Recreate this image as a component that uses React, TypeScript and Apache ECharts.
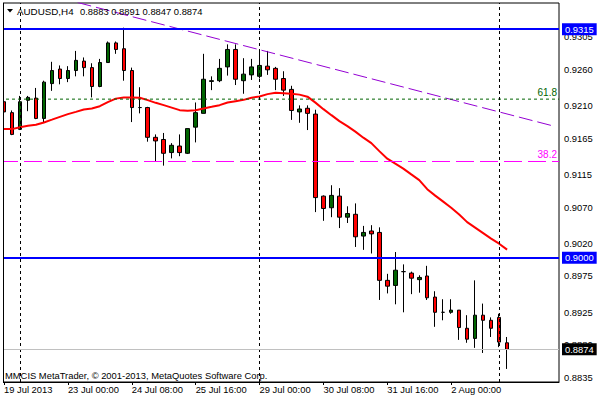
import React, { useEffect, useRef } from "react";
import * as echarts from "echarts";

// ---- data (AUDUSD, H4) ----
const hours = ["00:00", "04:00", "08:00", "12:00", "16:00", "20:00"];
const fullDays = ["22 Jul", "23 Jul", "24 Jul", "25 Jul", "26 Jul", "29 Jul", "30 Jul", "31 Jul", "1 Aug", "2 Aug"];
const categories: string[] = [
  "19 Jul 16:00", "19 Jul 20:00",
  ...fullDays.flatMap((d) => hours.map((h) => `${d} ${h}`)),
  "5 Aug 00:00", "5 Aug 04:00",
  // empty chart-shift slots
  "5 Aug 08:00", "5 Aug 12:00", "5 Aug 16:00", "5 Aug 20:00", "6 Aug 00:00", "6 Aug 04:00",
];

const xTickLabels = ["19 Jul 2013", "23 Jul 00:00", "24 Jul 08:00", "25 Jul 16:00", "29 Jul 00:00", "30 Jul 08:00", "31 Jul 16:00", "2 Aug 00:00"];
const yTickValues = [0.9305, 0.926, 0.921, 0.9165, 0.9115, 0.907, 0.902, 0.8975, 0.8925, 0.888, 0.8835];

const opens = [
  0.9215, 0.92, 0.9177, 0.9217, 0.922, 0.9192, 0.924, 0.926, 0.9247, 0.9258,
  0.9271, 0.9262, 0.9236, 0.9269, 0.9296, 0.9288, 0.9258, 0.9207, 0.9207, 0.9166,
  0.9163, 0.9145, 0.9154, 0.9144, 0.918, 0.9199, 0.9243, 0.9244, 0.9263, 0.9287,
  0.9244, 0.9252, 0.925, 0.9264, 0.9261, 0.9247, 0.9232, 0.9201, 0.9206, 0.9198,
  0.9085, 0.9069, 0.9085, 0.9056, 0.906, 0.903, 0.9037, 0.9035, 0.8969, 0.8962,
  0.8981, 0.8979, 0.897, 0.8975, 0.8946, 0.8925, 0.8925, 0.8928, 0.8903, 0.8889,
  0.8921, 0.8914, 0.8918, 0.8883,
];
const highs = [
  0.9218, 0.9203, 0.9223, 0.9223, 0.9234, 0.9244, 0.927, 0.9265, 0.9264, 0.9285,
  0.9276, 0.9268, 0.9274, 0.9298, 0.9298, 0.9317, 0.9262, 0.9235, 0.9208, 0.917,
  0.9172, 0.9158, 0.917, 0.9178, 0.9214, 0.9281, 0.925, 0.9274, 0.9294, 0.9294,
  0.9275, 0.9274, 0.9285, 0.9285, 0.9263, 0.9257, 0.9237, 0.921, 0.921, 0.9204,
  0.9086, 0.91, 0.9096, 0.9071, 0.9075, 0.9044, 0.9045, 0.9042, 0.8978, 0.9008,
  0.8991, 0.8981, 0.8976, 0.8989, 0.8954, 0.8943, 0.8943, 0.8928, 0.8921, 0.8969,
  0.8937, 0.8918, 0.8923, 0.8891,
];
const lows = [
  0.9189, 0.9169, 0.9176, 0.9202, 0.9191, 0.9187, 0.923, 0.9239, 0.9242, 0.925,
  0.925, 0.9221, 0.9235, 0.9269, 0.9281, 0.9244, 0.9187, 0.9199, 0.916, 0.9132,
  0.9127, 0.9137, 0.914, 0.9143, 0.9159, 0.9199, 0.9231, 0.9242, 0.9251, 0.9238,
  0.9226, 0.9245, 0.9247, 0.9252, 0.9231, 0.9223, 0.919, 0.9186, 0.9176, 0.9063,
  0.9051, 0.9056, 0.9041, 0.9048, 0.9015, 0.9011, 0.9006, 0.8942, 0.8951, 0.8936,
  0.8925, 0.895, 0.8952, 0.8942, 0.8905, 0.8914, 0.8923, 0.8887, 0.8883, 0.8876,
  0.8869, 0.8891, 0.8877, 0.8847,
];
const closes = [
  0.9201, 0.917, 0.9215, 0.9221, 0.9192, 0.9242, 0.9258, 0.9247, 0.9258, 0.9272,
  0.9262, 0.9236, 0.9269, 0.9296, 0.9287, 0.9258, 0.9207, 0.9207, 0.9166, 0.9161,
  0.9144, 0.9155, 0.9145, 0.9178, 0.92, 0.9246, 0.9244, 0.9261, 0.9287, 0.9246,
  0.9253, 0.9263, 0.9265, 0.9259, 0.9246, 0.9231, 0.9203, 0.9205, 0.9199, 0.9083,
  0.9068, 0.9086, 0.9056, 0.9061, 0.9029, 0.9035, 0.9033, 0.8969, 0.8961, 0.8983,
  0.8981, 0.8972, 0.8973, 0.8945, 0.8925, 0.8925, 0.8928, 0.8904, 0.8888, 0.8921,
  0.8914, 0.8903, 0.8884, 0.8874,
];
const maValues = [
  0.91773, 0.91773, 0.918, 0.91818, 0.91832, 0.91865, 0.91903, 0.91942, 0.91979, 0.92011,
  0.92044, 0.92058, 0.92089, 0.92144, 0.92193, 0.92209, 0.92209, 0.92204, 0.92172, 0.92135,
  0.92103, 0.92069, 0.92034, 0.92025, 0.92034, 0.92058, 0.9208, 0.92103, 0.9214, 0.92158,
  0.92176, 0.92206, 0.92223, 0.92255, 0.92273, 0.92268, 0.92259, 0.92248, 0.9222, 0.92138,
  0.92048, 0.91965, 0.91883, 0.91814, 0.91738, 0.91655, 0.9158, 0.9147, 0.91366, 0.91297,
  0.91229, 0.91149, 0.9107, 0.90946, 0.90857, 0.90774, 0.90691, 0.90598, 0.90492, 0.90416,
  0.9034, 0.90264, 0.90195, 0.90113,
];

const levelHigh = 0.9315;
const levelLow = 0.9;
const lastPrice = 0.8874;
const fib618 = 0.92186;
const fib382 = 0.91327;
const trendStart = 0.9378; // at first category
const trendEnd = 0.9181; // at last category
const separatorIdx = [2, 32, 62];

const headerSymbol = "AUDUSD,H4";
const headerValues = "0.8883 0.8891 0.8847 0.8874";
const copyright = "MMCIS MetaTrader, © 2001-2013, MetaQuotes Software Corp.";

const FONT = "'Liberation Sans', Arial, sans-serif";
const FS = 9.4;

export default function App() {
  const ref = useRef<HTMLDivElement>(null);

  useEffect(() => {
    if (!ref.current) return;
    const chart = echarts.init(ref.current, undefined, { renderer: "svg" });

    const candleData = opens.map((o, i) => [o, closes[i], lows[i], highs[i]]);
    const trendData = categories.map((_, i) =>
      i === 0 ? trendStart : i === categories.length - 1 ? trendEnd : null
    );

    const boxLabel = (text: string, bg: string) => ({
      show: true,
      position: "end",
      formatter: text,
      backgroundColor: bg,
      color: "#ffffff",
      padding: [2, 3, 1, 3],
      distance: 3,
      fontSize: FS,
      fontFamily: FONT,
    });

    const hLine = (name: string, value: number, color: string, width: number, label: any, z: number) => ({
      name,
      type: "line",
      data: [],
      z,
      color,
      markLine: {
        silent: true,
        precision: 5,
        symbol: ["none", "none"],
        lineStyle: { color, type: "solid", width },
        label,
        data: [{ yAxis: value }],
      },
    });

    // fibo level: full-width dashed line on a hidden 0..1 x axis, label via an invisible markLine
    const fibLine = (name: string, value: number, color: string, dash: number[], text: string) => ({
      name,
      type: "line",
      xAxisIndex: 1,
      yAxisIndex: 0,
      data: [[0, value], [1, value]],
      z: 4,
      symbol: "none",
      silent: true,
      lineStyle: { color, width: 1, type: dash },
      markLine: {
        silent: true,
        precision: 5,
        symbol: ["none", "none"],
        lineStyle: { color: "rgba(0,0,0,0)", width: 1 },
        label: {
          show: true,
          position: "insideEndTop",
          formatter: text,
          color,
          fontSize: FS + 0.6,
          fontFamily: FONT,
          distance: 2,
        },
        data: [{ yAxis: value }],
      },
    });

    chart.setOption({
      animation: false,
      backgroundColor: "#ffffff",
      grid: {
        left: -1,
        right: 41,
        top: 3,
        bottom: 18,
        show: true,
        borderColor: "#000000",
        borderWidth: 1,
        backgroundColor: "transparent",
      },
      xAxis: [
        {
          type: "category",
          data: categories,
          boundaryGap: true,
          axisLine: { show: true, lineStyle: { color: "#000000", width: 1 } },
          axisTick: {
            show: true,
            alignWithLabel: true,
            length: 3,
            interval: (i: number) => i % 8 === 0 && i < 64,
            lineStyle: { color: "#000000" },
          },
          axisLabel: {
            interval: (i: number) => i % 8 === 0 && i < 64,
            align: "left",
            margin: 3,
            color: "#000000",
            fontSize: FS,
            fontFamily: FONT,
            formatter: (_v: string, idx: number) => xTickLabels[idx / 8] ?? "",
          },
          splitLine: { show: false },
        },
        { type: "value", min: 0, max: 1, show: false },
      ],
      yAxis: {
        type: "value",
        position: "right",
        min: 0.8829,
        max: 0.9351,
        axisLine: { show: true, lineStyle: { color: "#000000", width: 1 } },
        axisTick: {
          show: true,
          length: 3,
          customValues: yTickValues,
          lineStyle: { color: "#000000" },
        },
        axisLabel: {
          customValues: yTickValues,
          margin: 5,
          color: "#000000",
          fontSize: FS,
          fontFamily: FONT,
          formatter: (v: number) => v.toFixed(4),
        },
        splitLine: { show: false },
      },
      graphic: [
        { type: "rect", shape: { x: 0, y: 0, width: 3, height: 383 }, style: { fill: "#ffffff" }, z: 100 },
        { type: "line", shape: { x1: 3.5, y1: 3, x2: 3.5, y2: 382 }, style: { stroke: "#000000", lineWidth: 1 }, z: 101 },
        { type: "polygon", shape: { points: [[7, 9], [13, 9], [10, 12.5]] }, style: { fill: "#000000" }, z: 101 },
        {
          type: "text", x: 17, y: 11, z: 101,
          style: { text: headerSymbol, fill: "#000000", fontSize: FS + 0.4, fontFamily: FONT, verticalAlign: "middle" },
        },
        {
          type: "text", x: 80, y: 11, z: 101,
          style: { text: headerValues, fill: "#000000", fontSize: FS, fontFamily: FONT, verticalAlign: "middle" },
        },
        {
          type: "text", x: 5, y: 375, z: 101,
          style: { text: copyright, fill: "#000000", fontSize: FS, fontFamily: FONT, verticalAlign: "middle" },
        },
      ],
      series: [
        {
          name: "separators",
          type: "line",
          data: [],
          z: 1,
          markLine: {
            silent: true,
            symbol: ["none", "none"],
            label: { show: false },
            lineStyle: { color: "#000000", type: [3, 3], width: 1 },
            data: separatorIdx.map((i) => ({ xAxis: categories[i] })),
          },
        },
        {
          name: "AUDUSD",
          type: "candlestick",
          data: candleData,
          barWidth: 4,
          z: 2,
          itemStyle: {
            color: "#006400",
            color0: "#ff0000",
            borderColor: "#000000",
            borderColor0: "#000000",
            borderColorDoji: "#000000",
            borderWidth: 1,
          },
        },
        fibLine("fib618", fib618, "#006400", [3, 3], "61.8"),
        fibLine("fib382", fib382, "#ff00ff", [18, 6], "38.2"),
        hLine("last", lastPrice, "#c0c0c0", 1, boxLabel("0.8874", "#000000"), 4),
        {
          name: "MA",
          type: "line",
          data: maValues,
          z: 3,
          symbol: "none",
          lineStyle: { color: "#ff0000", width: 2 },
        },
        {
          name: "Trendline",
          type: "line",
          data: trendData,
          connectNulls: true,
          z: 3,
          symbol: "none",
          lineStyle: { color: "#9400d3", width: 1, type: [14, 5] },
        },
        hLine("high", levelHigh, "#0000ff", 2, boxLabel("0.9315", "#0000ff"), 4),
        hLine("low", levelLow, "#0000ff", 2, boxLabel("0.9000", "#0000ff"), 4),
      ],
    });

    return () => chart.dispose();
  }, []);

  return (
    <div
      ref={ref}
      style={{ position: "fixed", left: 0, top: 0, width: 600, height: 400, background: "#ffffff" }}
    />
  );
}
